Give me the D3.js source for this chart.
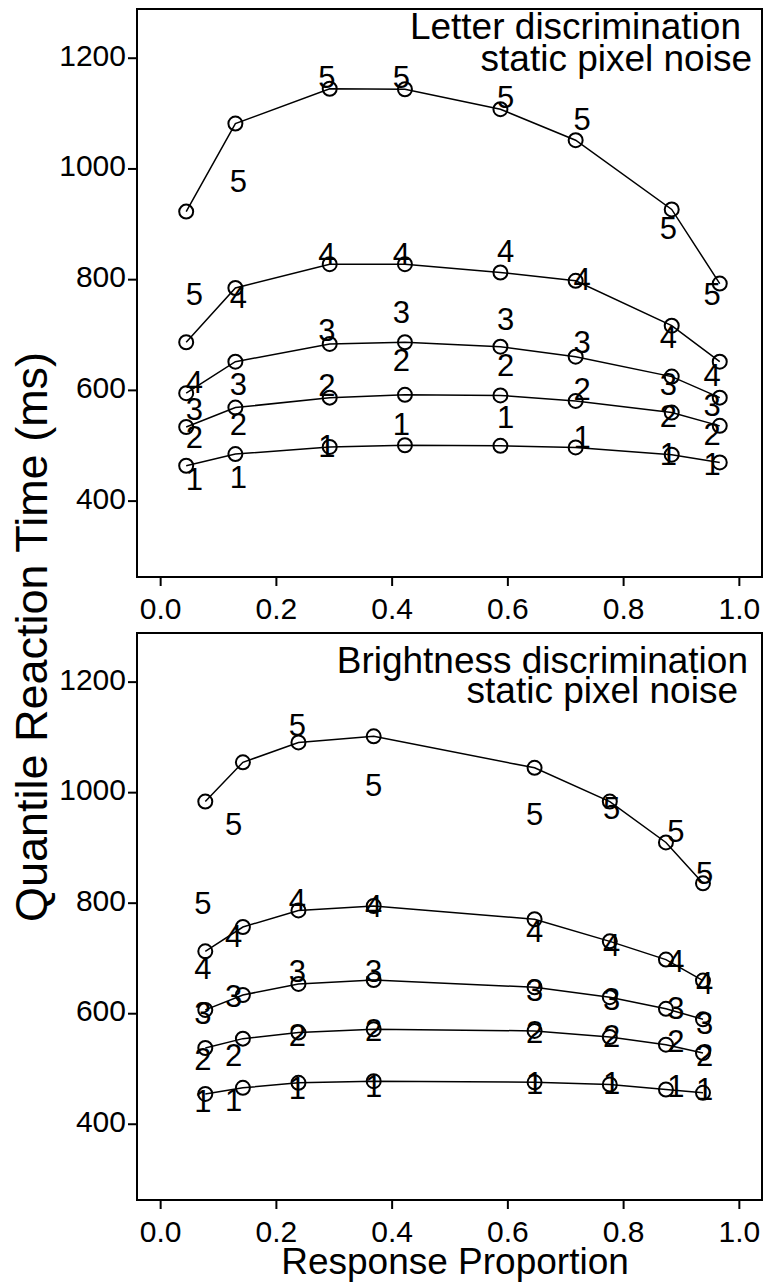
<!DOCTYPE html>
<html>
<head>
<meta charset="utf-8">
<script src="https://cdn.jsdelivr.net/npm/d3@7"></script>
<style>
  body { margin: 0; background: #fff; }
  svg { display: block; font-family: "Liberation Sans", Arial, Helvetica, sans-serif; }
</style>
</head>
<body>
<div id="chart"></div>
<script>
// response proportions (x) and quantile RTs (rows = quantile 1..5)
var letterModelP = [0.045, 0.130, 0.293, 0.423, 0.588, 0.718, 0.884, 0.967];
var letterModelRT = [
  [463, 484, 497, 500, 499, 496, 483, 469],
  [533, 568, 586, 591, 590, 580, 559, 535],
  [594, 651, 683, 686, 678, 660, 624, 586],
  [686, 784, 827, 827, 812, 797, 716, 651],
  [922, 1081, 1144, 1143, 1107, 1051, 926, 792]
];
var letterDataP = [0.059, 0.135, 0.288, 0.417, 0.597, 0.729, 0.878, 0.954];
var letterDataRT = [
  [439, 442, 499, 538, 550, 514, 484, 466],
  [514, 538, 608, 653, 644, 602, 553, 520],
  [566, 611, 707, 740, 728, 686, 611, 572],
  [614, 767, 846, 846, 851, 800, 695, 626],
  [773, 977, 1164, 1164, 1128, 1089, 893, 773]
];

var brightModelP = [0.078, 0.143, 0.239, 0.369, 0.647, 0.777, 0.874, 0.938];
var brightModelRT = [
  [454, 465, 474, 477, 475, 471, 462, 456],
  [537, 554, 565, 571, 568, 557, 543, 528],
  [606, 633, 653, 660, 647, 629, 608, 589],
  [712, 756, 786, 794, 770, 730, 697, 659],
  [983, 1054, 1090, 1101, 1044, 983, 909, 835]
];
var brightDataP = [0.074, 0.127, 0.237, 0.369, 0.647, 0.780, 0.891, 0.941];
var brightDataRT = [
  [440, 443, 465, 468, 474, 474, 468, 462],
  [516, 525, 561, 570, 565, 559, 549, 525],
  [600, 630, 676, 676, 642, 626, 609, 582],
  [682, 739, 805, 794, 748, 724, 694, 655],
  [800, 943, 1122, 1013, 960, 971, 929, 853]
];

var xTicks = [0, 0.2, 0.4, 0.6, 0.8, 1.0];
var yTicks = [400, 600, 800, 1000, 1200];
var quantileLabels = ["1", "2", "3", "4", "5"];

var W = 767, H = 1286;
var svg = d3.select('#chart').append('svg')
  .attr('width', W)
  .attr('height', H);

// layout of the two panels
var panels = [
  { top: 9, bottom: 577, modelP: letterModelP, modelRT: letterModelRT,
    dataP: letterDataP, dataRT: letterDataRT,
    titles: [
      { text: "Letter discrimination", x: 741, y: 39 },
      { text: "static pixel noise", x: 752, y: 71 }
    ] },
  { top: 633, bottom: 1200, modelP: brightModelP, modelRT: brightModelRT,
    dataP: brightDataP, dataRT: brightDataRT,
    titles: [
      { text: "Brightness discrimination", x: 748, y: 673 },
      { text: "static pixel noise", x: 738, y: 703 }
    ] }
];

var left = 137, right = 762;
var x = d3.scaleLinear().domain([-0.04, 1.04]).range([left, right]);

panels.forEach(function (p) {
  var y = d3.scaleLinear().domain([262, 1288]).range([p.bottom, p.top]);
  var g = svg.append('g');

  // x axis
  var xa = g.append('g')
    .attr('transform', 'translate(0,' + p.bottom + ')')
    .call(d3.axisBottom(x).tickValues(xTicks).tickFormat(d3.format('.1f'))
      .tickSize(9).tickPadding(12));
  xa.select('.domain').remove();
  xa.selectAll('line').attr('stroke', '#000').attr('stroke-width', 2);
  xa.selectAll('text').attr('font-size', 30).attr('fill', '#000');

  // y axis
  var ya = g.append('g')
    .attr('transform', 'translate(' + left + ',0)')
    .call(d3.axisLeft(y).tickValues(yTicks).tickFormat(d3.format('d'))
      .tickSize(9).tickPadding(2));
  ya.select('.domain').remove();
  ya.selectAll('line').attr('stroke', '#000').attr('stroke-width', 2);
  ya.selectAll('text').attr('font-size', 30).attr('fill', '#000')
    .attr('dy', '0.25em');

  // box
  g.append('rect')
    .attr('x', left).attr('y', p.top)
    .attr('width', right - left).attr('height', p.bottom - p.top)
    .attr('fill', 'none').attr('stroke', '#000').attr('stroke-width', 2);

  // model lines with open circles
  var line = d3.line()
    .x(function (d) { return x(d[0]); })
    .y(function (d) { return y(d[1]); });

  p.modelRT.forEach(function (row) {
    var pts = row.map(function (v, i) { return [p.modelP[i], v]; });
    g.append('path')
      .datum(pts)
      .attr('d', line)
      .attr('fill', 'none')
      .attr('stroke', '#000')
      .attr('stroke-width', 1.5);
    g.selectAll(null)
      .data(pts)
      .enter()
      .append('circle')
      .attr('cx', function (d) { return x(d[0]); })
      .attr('cy', function (d) { return y(d[1]); })
      .attr('r', 7)
      .attr('fill', 'none')
      .attr('stroke', '#000')
      .attr('stroke-width', 2);
  });

  // data quantiles as numbers
  p.dataRT.forEach(function (row, q) {
    g.selectAll(null)
      .data(row)
      .enter()
      .append('text')
      .attr('x', function (d, i) { return x(p.dataP[i]); })
      .attr('y', function (d) { return y(d); })
      .attr('dy', '0.35em')
      .attr('text-anchor', 'middle')
      .attr('font-size', 31)
      .text(quantileLabels[q]);
  });

  // panel titles
  p.titles.forEach(function (t) {
    g.append('text')
      .attr('x', t.x).attr('y', t.y)
      .attr('text-anchor', 'end')
      .attr('font-size', 37)
      .text(t.text);
  });
});

// axis titles
svg.append('text')
  .attr('x', 455).attr('y', 1274)
  .attr('text-anchor', 'middle')
  .attr('font-size', 37)
  .text('Response Proportion');

svg.append('text')
  .attr('transform', 'translate(47,637) rotate(-90)')
  .attr('text-anchor', 'middle')
  .attr('font-size', 45)
  .text('Quantile Reaction Time (ms)');
</script>
</body>
</html>
